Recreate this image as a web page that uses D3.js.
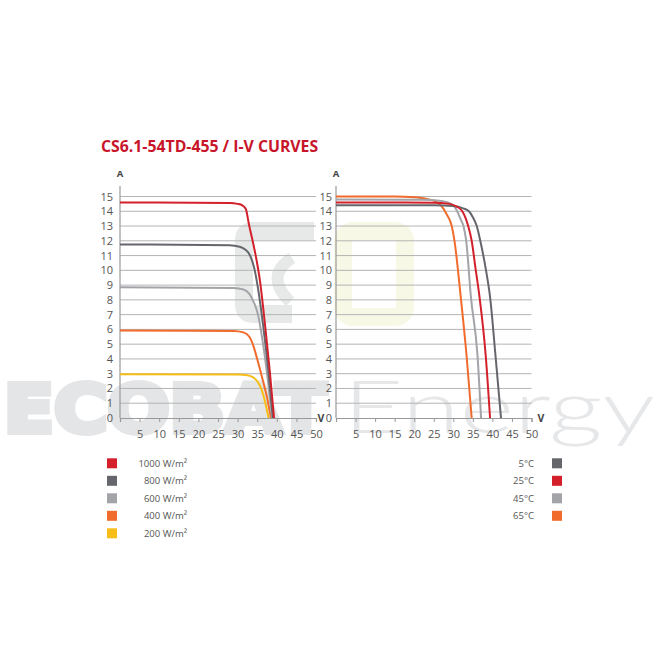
<!DOCTYPE html>
<html><head><meta charset="utf-8">
<script src="https://cdn.jsdelivr.net/npm/d3@7"></script>
<style>
html,body{margin:0;padding:0;background:#fff;}
</style></head>
<body><svg id="c" width="660" height="660"></svg>
<script>
// ---------- data ----------
const title = "CS6.1-54TD-455 / I-V CURVES";
const xTicks = [5,10,15,20,25,30,35,40,45,50];
const yTicks = [0,1,2,3,4,5,6,7,8,9,10,11,12,13,14,15];

const irrLabels = ["1000 W/m²","800 W/m²","600 W/m²","400 W/m²","200 W/m²"];
const irrColors = ["#d3202b","#64666b","#a3a4a8","#f06b2c","#f7be17"];
const irr1000 = [[0,14.6],[28,14.56],[30,14.5],[31.2,14.4],[32.1,14.15],[32.9,13.1],[34.0,11.8],[34.9,10.6],[35.7,9.3],[37,6.3],[38.2,3.2],[39.3,0]];
const irr800  = [[0,11.75],[28,11.7],[30.5,11.6],[32,11.4],[33.2,11.0],[34.2,10.2],[35.2,8.8],[36.5,6.3],[37.8,3.3],[39.0,0]];
const irr600  = [[0,8.85],[29,8.8],[31.5,8.7],[33,8.4],[34.2,7.8],[35.2,7.0],[36.5,5.0],[37.7,2.6],[38.8,0]];
const irr400  = [[0,5.92],[29,5.9],[31.5,5.8],[33,5.5],[34,4.9],[35,4.0],[36.3,2.7],[37.5,1.4],[38.5,0]];
const irr200  = [[0,2.97],[30,2.95],[32.5,2.9],[34,2.75],[35,2.5],[36,2.0],[37,1.1],[37.9,0]];

const tempLabels = ["5°C","25°C","45°C","65°C"];
const tempColors = ["#64666b","#d3202b","#a3a4a8","#f06b2c"];
const temp5  = [[0,14.4],[25,14.4],[30,14.35],[32.5,14.2],[34,14.0],[35,13.6],[36,13.0],[36.9,12.0],[38.3,10.1],[39.4,8.2],[40.8,4.2],[42.2,0]];
const temp25 = [[0,14.6],[25,14.58],[29,14.5],[31,14.3],[32.3,14.0],[33.2,13.5],[33.8,13.0],[34.7,12.0],[35.7,10.1],[36.7,8.2],[38.3,4.2],[39.4,0]];
const temp45 = [[0,14.8],[22,14.78],[27,14.7],[29.5,14.5],[30.8,14.1],[31.8,13.5],[32.6,13.0],[33.3,12.0],[34.5,8.2],[36.2,4.2],[37.1,0]];
const temp65 = [[0,15.0],[15,15.0],[20,14.95],[23,14.85],[25.5,14.65],[27,14.35],[28.3,13.8],[29.6,13.0],[30.3,12.0],[31.9,8.2],[33.4,4.2],[34.7,0]];

const irrSeries = [irr1000, irr800, irr600, irr400, irr200];
const tempSeries = [temp5, temp25, temp45, temp65];

// ---------- drawing ----------
const svg = d3.select("#c");
const FONT = "'Open Sans','Noto Sans',sans-serif";

// watermark
const wm = svg.append("g");
wm.append("path").attr("d","M314,231 H253 Q244,231 244,240 V305 Q244,314 253,314 H292")
  .attr("fill","none").attr("stroke","#e7e9e9").attr("stroke-width",18);
wm.append("path").attr("d","M292,258 Q264,276 290,302")
  .attr("fill","none").attr("stroke","#e7e9e9").attr("stroke-width",12);
wm.append("rect").attr("x",343).attr("y",231).attr("width",62).attr("height",86).attr("rx",10)
  .attr("fill","none").attr("stroke","#f7f8e6").attr("stroke-width",18);
wm.append("text").attr("x",4).attr("y",432).text("ECOBAT")
  .style("font-family","'DejaVu Sans'").style("font-weight","bold").style("font-size","66px")
  .attr("textLength",322).attr("lengthAdjust","spacingAndGlyphs")
  .attr("fill","#e4e5e7").attr("stroke","#e4e5e7").attr("stroke-width",6).attr("stroke-linejoin","miter");
wm.append("text").attr("x",343).attr("y",433).text("Energy")
  .style("font-family","Lato").style("font-weight","300").style("font-size","72px")
  .attr("textLength",312).attr("lengthAdjust","spacingAndGlyphs").attr("fill","#e6e7e9");

svg.append("text").attr("x",101).attr("y",152).text(title)
  .style("font-family",FONT).style("font-weight","bold").style("font-size","15.8px").attr("fill","#c8152a");

function panel(x0, x1, gridEnd, labelGap, series, colors, vPos) {
  const x = d3.scaleLinear().domain([0,50]).range([x0,x1]);
  const y = d3.scaleLinear().domain([0,15]).range([418,196.5]);
  const g = svg.append("g");
  g.selectAll("line.grid").data(yTicks.filter(d=>d>0)).join("line")
    .attr("x1",x0).attr("x2",gridEnd).attr("y1",d=>y(d)).attr("y2",d=>y(d))
    .attr("stroke","#b4b4b4").attr("stroke-width",1);
  const ya = g.append("g").attr("transform",`translate(${x0},0)`)
    .call(d3.axisLeft(y).tickValues(yTicks).tickSize(0).tickPadding(labelGap));
  ya.select(".domain").remove();
  ya.selectAll("text").style("font-size","11px").attr("fill","#555").style("font-family",FONT);
  g.append("line").attr("x1",x0).attr("x2",x0).attr("y1",186).attr("y2",418)
    .attr("stroke","#999").attr("stroke-width",1.2);
  const xa = g.append("g").attr("transform","translate(0,418)")
    .call(d3.axisBottom(x).tickValues([0].concat(xTicks)).tickSize(4).tickPadding(8).tickFormat(d=>d===0?"":d));
  xa.select(".domain").attr("stroke","#999").attr("stroke-width",1.2);
  xa.selectAll("line").attr("stroke","#999");
  xa.selectAll("text").style("font-size","11px").attr("fill","#555").style("font-family",FONT);
  g.append("text").attr("x",x0).attr("y",177).attr("text-anchor","middle").text("A")
    .style("font-family",FONT).style("font-weight","bold").style("font-size","9.5px").attr("fill","#444");
  g.append("text").attr("x",vPos).attr("y",422).attr("text-anchor","middle").text("V")
    .style("font-family",FONT).style("font-weight","bold").style("font-size","10.5px").attr("fill","#444");
  const line = d3.line().x(d=>x(d[0])).y(d=>y(d[1])).curve(d3.curveMonotoneX);
  g.selectAll("path.curve").data(series).join("path")
    .attr("d",line).attr("fill","none").attr("stroke",(d,i)=>colors[i]).attr("stroke-width",2);
}

panel(120, 316, 316, 7, irrSeries.slice().reverse(), irrColors.slice().reverse(), 321);
panel(336, 531.5, 531.5, 4, [temp65,temp45,temp5,temp25], [tempColors[3],tempColors[2],tempColors[0],tempColors[1]], 541);

// legends
const lg1 = svg.append("g");
irrLabels.forEach((t,i)=>{
  const yy = 463.3 + i*17.5;
  lg1.append("rect").attr("x",107).attr("y",yy-5).attr("width",10).attr("height",10).attr("fill",irrColors[i]);
  lg1.append("text").attr("x",187).attr("y",yy+3.5).attr("text-anchor","end").text(t)
    .style("font-family",FONT).style("font-size","9.5px").attr("fill","#555");
});
const lg2 = svg.append("g");
tempLabels.forEach((t,i)=>{
  const yy = 463.3 + i*17.5;
  lg2.append("rect").attr("x",552).attr("y",yy-5).attr("width",10).attr("height",10).attr("fill",tempColors[i]);
  lg2.append("text").attr("x",534).attr("y",yy+3.5).attr("text-anchor","end").text(t)
    .style("font-family",FONT).style("font-size","9.5px").attr("fill","#555");
});
</script></body></html>
